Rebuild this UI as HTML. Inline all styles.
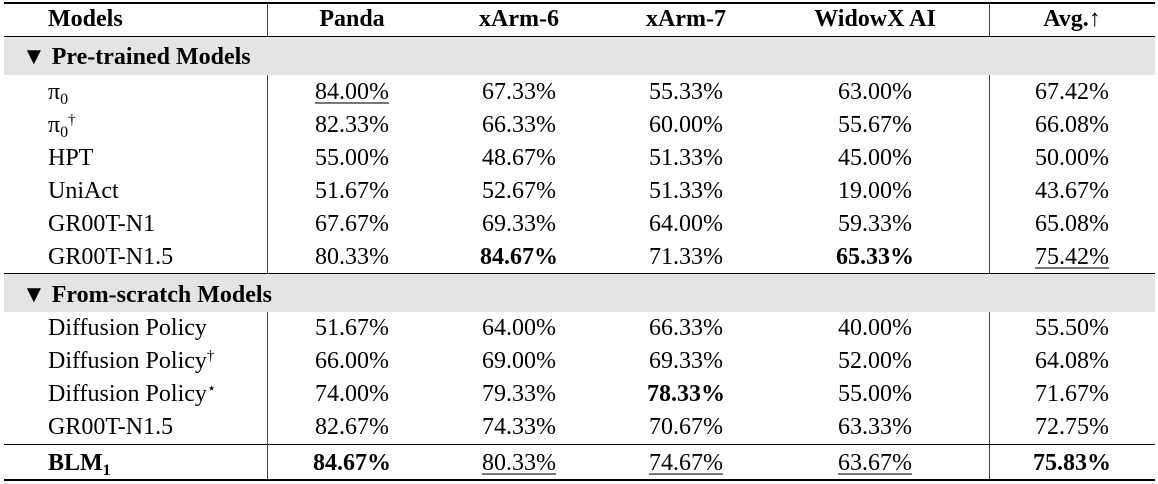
<!DOCTYPE html>
<html><head><meta charset="utf-8"><style>
body{margin:0;background:#fff;width:1158px;height:484px;position:relative;overflow:hidden;font-family:"Liberation Serif","DejaVu Serif",serif;font-size:24px;color:#000}
.h{position:absolute;left:4px;width:1151px;background:#000}
.g{position:absolute;left:4px;width:1151px;background:#e4e4e4}
.v{position:absolute;width:1px;background:#444}
.t{position:absolute;white-space:nowrap;line-height:24px;height:24px}
.c{transform:translateX(-50%)}
b{font-weight:bold}
u{text-decoration:underline;text-decoration-color:#777;text-underline-offset:3px;text-decoration-thickness:2px}
sub{font-size:16px;vertical-align:-5px;line-height:0}
sup{font-size:15px;vertical-align:8px;line-height:0}
</style></head><body>
<div class="h" style="top:2px;height:2px"></div>
<div class="h" style="top:36px;height:1px"></div>
<div class="g" style="top:37px;height:38px"></div>
<div class="h" style="top:273px;height:1px"></div>
<div class="g" style="top:274px;height:38px"></div>
<div class="h" style="top:444px;height:1px"></div>
<div class="h" style="top:479px;height:2px"></div>
<div class="v" style="left:267px;top:4px;height:32px"></div>
<div class="v" style="left:989px;top:4px;height:32px"></div>
<div class="v" style="left:267px;top:75px;height:198px"></div>
<div class="v" style="left:989px;top:75px;height:198px"></div>
<div class="v" style="left:267px;top:312px;height:167px"></div>
<div class="v" style="left:989px;top:312px;height:167px"></div>
<div id="c"></div>
<script>
var cols=[352,519,686,875,1072];
var H='';
function cell(x,y,txt,left){H+='<div class="t'+(left?'':' c')+'" style="left:'+x+'px;top:'+(y-12)+'px">'+txt+'</div>';}
cell(48,19,'<b>Models</b>',1);
['<b>Panda</b>','<b>xArm-6</b>','<b>xArm-7</b>','<b>WidowX AI</b>','<b>Avg.</b>↑'].forEach(function(t,i){cell(cols[i],19,t);});
cell(22,57,'▼ <b>Pre-trained Models</b>',1);
cell(22,295,'▼ <b>From-scratch Models</b>',1);
var rows=[
[92,'π<sub>0</sub>',['<u>84.00%</u>','67.33%','55.33%','63.00%','67.42%']],
[125,'π<sub>0</sub><sup>†</sup>',['82.33%','66.33%','60.00%','55.67%','66.08%']],
[158,'HPT',['55.00%','48.67%','51.33%','45.00%','50.00%']],
[191,'UniAct',['51.67%','52.67%','51.33%','19.00%','43.67%']],
[224,'GR00T-N1',['67.67%','69.33%','64.00%','59.33%','65.08%']],
[257,'GR00T-N1.5',['80.33%','<b>84.67%</b>','71.33%','<b>65.33%</b>','<u>75.42%</u>']],
[328,'Diffusion Policy',['51.67%','64.00%','66.33%','40.00%','55.50%']],
[361,'Diffusion Policy<sup>†</sup>',['66.00%','69.00%','69.33%','52.00%','64.08%']],
[394,'Diffusion Policy<sup>⋆</sup>',['74.00%','79.33%','<b>78.33%</b>','55.00%','71.67%']],
[427,'GR00T-N1.5',['82.67%','74.33%','70.67%','63.33%','72.75%']],
[463,'<b>BLM<sub>1</sub></b>',['<b>84.67%</b>','<u>80.33%</u>','<u>74.67%</u>','<u>63.67%</u>','<b>75.83%</b>']]
];
rows.forEach(function(r){cell(48,r[0],r[1],1);r[2].forEach(function(t,i){cell(cols[i],r[0],t);});});
document.getElementById('c').innerHTML=H;
</script>
</body></html>
